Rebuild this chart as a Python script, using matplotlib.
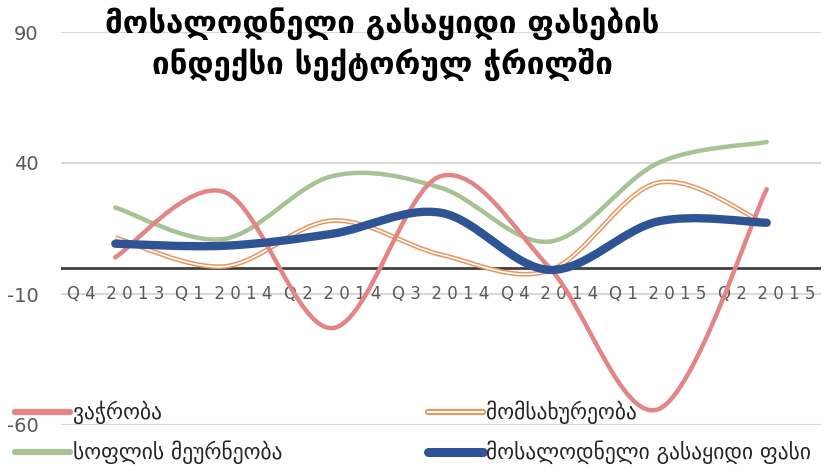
import numpy as np
import matplotlib.pyplot as plt
from matplotlib.path import Path
from matplotlib.patches import PathPatch

plt.rcParams['font.family'] = ['DejaVu Sans']
plt.rcParams['axes.unicode_minus'] = False

quarters = ['Q4 2013', 'Q1 2014', 'Q2 2014', 'Q3 2014', 'Q4 2014', 'Q1 2015', 'Q2 2015']
trade = [4, 29, -23, 35, 0, -54, 30]
services = [11.5, 0.5, 18, 5, -1, 32.5, 16.5]
agriculture = [23, 11, 35, 30.5, 10, 40, 48]
expected = [9.2, 8.4, 13, 21, -0.8, 17.7, 17.2]

title = 'მოსალოდნელი გასაყიდი ფასების\nინდექსი სექტორულ ჭრილში'
names = ['ვაჭრობა', 'მომსახურეობა', 'სოფლის მეურნეობა', 'მოსალოდნელი გასაყიდი ფასი']


def smooth_path(ys):
    # Catmull-Rom through the points, written as cubic Bezier segments
    pts = np.column_stack([np.arange(len(ys)), ys]).astype(float)
    verts = [pts[0]]
    codes = [Path.MOVETO]
    n = len(pts)
    for i in range(n - 1):
        p0 = pts[max(i - 1, 0)]
        p1 = pts[i]
        p2 = pts[i + 1]
        p3 = pts[min(i + 2, n - 1)]
        c1 = p1 + (p2 - p0) / 6
        c2 = p2 - (p3 - p1) / 6
        verts += [c1, c2, p2]
        codes += [Path.CURVE4] * 3
    return Path(verts, codes)


fig = plt.figure(figsize=(8.33, 4.70), dpi=100)
ax = fig.add_axes([61 / 833, 1 - 425 / 470, 760 / 833, 393 / 470])
ax.set_xlim(-0.5, 6.5)
ax.set_ylim(-60, 90)
ax.set_yticks([-60, -10, 40, 90])
ax.set_xticks([])
for s in ax.spines.values():
    s.set_visible(False)
ax.grid(axis='y', color='#D9D9D9', lw=1.5)
ax.set_axisbelow(True)
ax.tick_params(axis='y', length=0, pad=16, labelsize=14, labelcolor='#595959')

for i, q in enumerate(quarters):
    ax.text(i, -10, ' '.join(q).replace('   ', '  '), ha='center', va='center',
            fontsize=12, color='#595959', zorder=1)

ax.axhline(0, color='#404040', lw=2, zorder=2)

red = '#E38585'
orange = '#E8955E'
green = '#A7C293'
blue = '#2E5496'

ax.add_patch(PathPatch(smooth_path(agriculture), fill=False, ec=green, lw=3.2, zorder=3, capstyle='round'))
ax.add_patch(PathPatch(smooth_path(services), fill=False, ec=orange, lw=3.4, zorder=3))
ax.add_patch(PathPatch(smooth_path(services), fill=False, ec='white', lw=1.2, zorder=3))
ax.add_patch(PathPatch(smooth_path(trade), fill=False, ec=red, lw=3.2, zorder=4, capstyle='round'))
ax.add_patch(PathPatch(smooth_path(expected), fill=False, ec=blue, lw=6, zorder=5, capstyle='round'))

fig.text(0.459, 0.985, title, ha='center', va='top', fontsize=22.5, fontweight='bold',
         linespacing=1.3)

# legend
lx = [15 / 833, 428 / 833]
ly = [1 - 412 / 470, 1 - 452 / 470]
entries = [(names[0], red, 4.5, 0, 0), (names[1], orange, 4.5, 1, 0),
           (names[2], green, 4.5, 0, 1), (names[3], blue, 6.5, 1, 1)]
for label, col, lw, cx, ry in entries:
    x0 = lx[cx]
    y0 = ly[ry]
    fig.add_artist(plt.Line2D([x0, x0 + 55 / 833], [y0, y0], color=col, lw=lw,
                              solid_capstyle='round', transform=fig.transFigure))
    if label == names[1]:
        fig.add_artist(plt.Line2D([x0, x0 + 55 / 833], [y0, y0], color='white', lw=1.5,
                                  transform=fig.transFigure))
    fig.text(x0 + 58 / 833, y0, label, ha='left', va='center', fontsize=15.5, color='#262626')

fig.savefig('out.png', dpi=100)
